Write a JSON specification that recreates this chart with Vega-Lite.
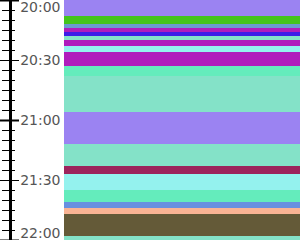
{
  "$schema": "https://vega.github.io/schema/vega-lite/v6.json",
  "width": 236,
  "height": 240,
  "autosize": {"type": "none"},
  "padding": {"left": 64, "top": 0, "right": 0, "bottom": 0},
  "background": "white",
  "config": {"view": {"stroke": null}, "axis": {"ticks": true, "tickOpacity": 1, "tickColor": "black", "grid": false, "title": null}},
  "data": {
    "values": [
      {"start": "2024-01-01T20:00:00Z", "end": "2024-01-01T20:08:00Z", "kind": "lavender"},
      {"start": "2024-01-01T20:08:00Z", "end": "2024-01-01T20:12:00Z", "kind": "green"},
      {"start": "2024-01-01T20:12:00Z", "end": "2024-01-01T20:14:00Z", "kind": "steel"},
      {"start": "2024-01-01T20:14:00Z", "end": "2024-01-01T20:16:00Z", "kind": "magenta"},
      {"start": "2024-01-01T20:16:00Z", "end": "2024-01-01T20:18:00Z", "kind": "blue"},
      {"start": "2024-01-01T20:18:00Z", "end": "2024-01-01T20:20:00Z", "kind": "aqua"},
      {"start": "2024-01-01T20:20:00Z", "end": "2024-01-01T20:23:00Z", "kind": "magenta"},
      {"start": "2024-01-01T20:23:00Z", "end": "2024-01-01T20:26:00Z", "kind": "cyan"},
      {"start": "2024-01-01T20:26:00Z", "end": "2024-01-01T20:33:00Z", "kind": "magenta"},
      {"start": "2024-01-01T20:33:00Z", "end": "2024-01-01T20:38:00Z", "kind": "mint"},
      {"start": "2024-01-01T20:38:00Z", "end": "2024-01-01T20:56:00Z", "kind": "aqua"},
      {"start": "2024-01-01T20:56:00Z", "end": "2024-01-01T21:12:00Z", "kind": "lavender"},
      {"start": "2024-01-01T21:12:00Z", "end": "2024-01-01T21:23:00Z", "kind": "aqua"},
      {"start": "2024-01-01T21:23:00Z", "end": "2024-01-01T21:27:00Z", "kind": "maroon"},
      {"start": "2024-01-01T21:27:00Z", "end": "2024-01-01T21:35:00Z", "kind": "cyan"},
      {"start": "2024-01-01T21:35:00Z", "end": "2024-01-01T21:41:00Z", "kind": "mint"},
      {"start": "2024-01-01T21:41:00Z", "end": "2024-01-01T21:44:00Z", "kind": "cornflower"},
      {"start": "2024-01-01T21:44:00Z", "end": "2024-01-01T21:47:00Z", "kind": "salmon"},
      {"start": "2024-01-01T21:47:00Z", "end": "2024-01-01T21:58:00Z", "kind": "olive"},
      {"start": "2024-01-01T21:58:00Z", "end": "2024-01-01T22:00:00Z", "kind": "aqua"}
    ]
  },
  "layer": [
    {
      "mark": {"type": "rect", "clip": true},
      "encoding": {
        "y": {
          "field": "start",
          "type": "temporal",
          "scale": {
            "type": "utc",
            "reverse": true,
            "nice": false,
            "domain": [
              {"year": 2024, "month": 1, "date": 1, "hours": 20, "minutes": 0, "utc": true},
              {"year": 2024, "month": 1, "date": 1, "hours": 22, "minutes": 0, "utc": true}
            ]
          },
          "axis": {
            "orient": "left",
            "offset": 54,
            "domain": true,
            "domainColor": "black",
            "domainWidth": 3,
            "tickCount": 4,
            "tickSize": 10.5,
            "format": "%H:%M",
            "labelFont": "DejaVu Sans",
            "labelFontSize": 14,
            "labelColor": "#555555",
            "labelAlign": "right",
            "labelPadding": -60.5,
            "labelFlush": true,
            "labelFlushOffset": 0,
            "labelOverlap": false,
            "labelBound": false
          }
        },
        "y2": {"field": "end"},
        "color": {
          "field": "kind",
          "type": "nominal",
          "legend": null,
          "scale": {
            "domain": ["lavender", "green", "steel", "magenta", "blue", "aqua", "cyan", "mint", "maroon", "cornflower", "salmon", "olive"],
            "range": ["#9b83f2", "#44c41c", "#6a9bd0", "#b01cbc", "#3d1ce8", "#84e2c8", "#94f2ee", "#64ecbc", "#9c245c", "#6890e0", "#fab494", "#645a38"]
          }
        }
      }
    },
    {
      "mark": {"type": "rect", "clip": true, "opacity": 0},
      "encoding": {
        "y": {"field": "start", "type": "temporal",
          "axis": {"orient": "left", "offset": 54, "domain": false, "labels": false, "tickCount": 4, "tickSize": -8.5}},
        "y2": {"field": "end"}
      }
    },
    {
      "mark": {"type": "rect", "clip": true, "opacity": 0},
      "encoding": {
        "y": {"field": "start", "type": "temporal",
          "axis": {"orient": "left", "offset": 54, "domain": false, "labels": false, "tickCount": 24, "tickSize": 8.5}},
        "y2": {"field": "end"}
      }
    },
    {
      "mark": {"type": "rect", "clip": true, "opacity": 0},
      "encoding": {
        "y": {"field": "start", "type": "temporal",
          "axis": {"orient": "left", "offset": 54, "domain": false, "labels": false, "tickCount": 24, "tickSize": -4.5}},
        "y2": {"field": "end"}
      }
    },
    {
      "mark": {"type": "rect", "clip": true, "opacity": 0},
      "encoding": {
        "y": {"field": "start", "type": "temporal",
          "axis": {"orient": "left", "offset": 54, "domain": false, "labels": false, "tickCount": 2, "tickSize": 10.5, "tickWidth": 2}},
        "y2": {"field": "end"}
      }
    },
    {
      "mark": {"type": "rect", "clip": true, "opacity": 0},
      "encoding": {
        "y": {"field": "start", "type": "temporal",
          "axis": {"orient": "left", "offset": 54, "domain": false, "labels": false, "tickCount": 2, "tickSize": -8.5, "tickWidth": 2}},
        "y2": {"field": "end"}
      }
    }
  ],
  "resolve": {"axis": {"y": "independent"}}
}
